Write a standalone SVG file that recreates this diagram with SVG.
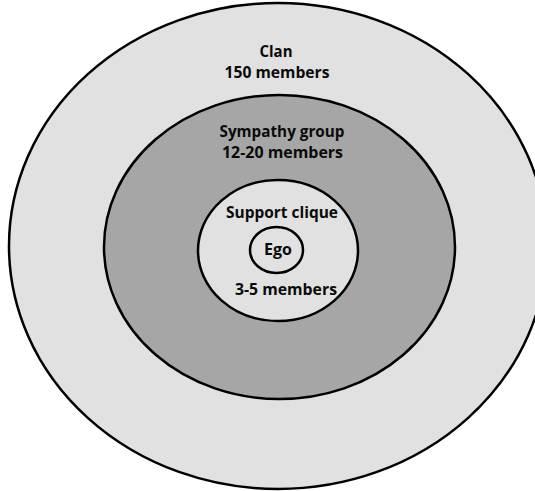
<svg xmlns="http://www.w3.org/2000/svg" width="535" height="491" viewBox="0 0 535 491">
<style>
.ring{stroke:#000;stroke-width:2.5}
.light{fill:#e1e1e1}
.mid{fill:#a6a6a6}
.lbl{font-family:"Open Sans",Lato,"Liberation Sans",sans-serif;font-weight:bold;font-size:16.5px;fill:#0a0a0a;text-anchor:middle}
</style>
<rect width="535" height="491" fill="#fff"/>
<g id="clan">
<ellipse class="ring light" cx="278" cy="246" rx="269" ry="243"/>
<text class="lbl" x="276" y="57" textLength="33" lengthAdjust="spacingAndGlyphs">Clan</text>
<text class="lbl" x="277" y="78" textLength="105" lengthAdjust="spacingAndGlyphs">150 members</text>
</g>
<g id="sympathy">
<ellipse class="ring mid" cx="279.5" cy="247" rx="175.5" ry="152"/>
<text class="lbl" x="282" y="137" textLength="125" lengthAdjust="spacingAndGlyphs">Sympathy group</text>
<text class="lbl" x="282.5" y="158" textLength="121" lengthAdjust="spacingAndGlyphs">12-20 members</text>
</g>
<g id="support">
<ellipse class="ring light" cx="278" cy="250.5" rx="80" ry="70.5"/>
<text class="lbl" x="282" y="218" textLength="112" lengthAdjust="spacingAndGlyphs">Support clique</text>
<text class="lbl" x="286" y="295" textLength="102" lengthAdjust="spacingAndGlyphs">3-5 members</text>
</g>
<g id="ego">
<ellipse class="ring light" cx="276.5" cy="250" rx="26.5" ry="23"/>
<text class="lbl" x="278" y="255" textLength="28" lengthAdjust="spacingAndGlyphs">Ego</text>
</g>
<g id="connectors"></g>
</svg>
